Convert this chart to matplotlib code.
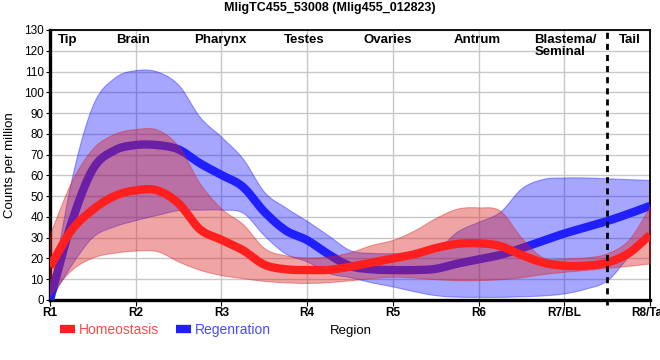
import numpy as np
import matplotlib
matplotlib.use("Agg")
import matplotlib.pyplot as plt
from matplotlib.lines import Line2D

plt.rcParams['font.family'] = ['Liberation Sans', 'DejaVu Sans']

# sample positions along the region axis (R1 = 0 ... R8 = 7)
pos = [0, 0.25, 0.5, 0.75, 1, 1.25, 1.5, 1.75, 2, 2.25, 2.5, 2.75, 3, 3.25,
       3.5, 3.75, 4, 4.25, 4.5, 4.75, 5, 5.25, 5.5, 5.75, 6, 6.25, 6.5, 6.75, 7]

homeo_mean = [16, 33.5, 43.5, 50, 52.8, 52.8, 46.5, 34, 29, 24, 17, 14.8, 14.4, 14.5,
              16, 18, 20, 22, 25, 27, 27.3, 26, 21.7, 18, 16.5, 16.5, 18, 22.5, 31.3]
homeo_hi = [32, 57, 73, 80, 82.3, 82, 74, 56, 44, 36.5, 25, 21.5, 20.5, 21,
            23, 26.5, 29, 33.5, 39.5, 44, 44.6, 43, 30, 20.5, 20, 20.5, 22.5, 29, 45]
homeo_lo = [2.5, 14.5, 20.5, 22.8, 23.8, 23.5, 18.5, 14.5, 12, 10.5, 9.2, 8.5, 8.2, 8.6,
            9.5, 10.5, 11.2, 10.8, 10, 9.6, 9.6, 10, 11, 12.5, 13.6, 14.5, 15.5, 16.5, 17.6]

regen_mean = [0, 37, 63, 72, 74.6, 74.6, 72.5, 65.8, 60.2, 54.5, 42.5, 33.5, 28.8, 22,
              16.4, 14.8, 14.4, 14.4, 15, 17.5, 19.5, 21.7, 24.9, 28.5, 32, 35, 38, 41.5, 45.3]
regen_hi = [2, 58, 94, 107, 110.7, 110, 103.5, 88, 78.5, 68, 52, 44.5, 38, 31,
            24, 22.7, 22.5, 22.5, 24, 33, 37.7, 42.5, 53.8, 58.3, 59, 59, 58.6, 58.2, 57.8]
regen_lo = [0, 17, 30.5, 35.5, 38.5, 41, 43.3, 43.5, 43.5, 42, 31, 22.3, 18.5, 13,
            11, 8.5, 6.5, 4.2, 2.3, 1.6, 1.5, 1.5, 1.8, 2.2, 3.2, 5.5, 9.5, 21, 31]

tick_labels = ['R1', 'R2', 'R3', 'R4', 'R5', 'R6', 'R7/BL', 'R8/Tail']
regions = ['Tip', 'Brain', 'Pharynx', 'Testes', 'Ovaries', 'Antrum', 'Blastema/\nSeminal', 'Tail']
region_x = [0.21, 0.97, 1.99, 2.96, 3.94, 4.98, 5.65, 6.77]


def smooth(x, y, steps=16):
    # catmull-rom curve through the read values, for drawing only
    x = np.asarray(x, float)
    y = np.asarray(y, float)
    px = np.concatenate([[2 * x[0] - x[1]], x, [2 * x[-1] - x[-2]]])
    py = np.concatenate([[2 * y[0] - y[1]], y, [2 * y[-1] - y[-2]]])
    t = np.linspace(0, 1, steps, endpoint=False)[:, None]
    out_x, out_y = [], []
    for k in range(1, len(px) - 2):
        for p, out in ((px, out_x), (py, out_y)):
            p0, p1, p2, p3 = p[k - 1], p[k], p[k + 1], p[k + 2]
            seg = 0.5 * (2 * p1 + (p2 - p0) * t + (2 * p0 - 5 * p1 + 4 * p2 - p3) * t**2
                         + (3 * p1 - p0 - 3 * p2 + p3) * t**3)
            out.append(seg.ravel())
    out_x.append([x[-1]])
    out_y.append([y[-1]])
    return np.concatenate(out_x), np.concatenate(out_y)


red = (1.0, 0.12, 0.12)
blue = (0.12, 0.12, 1.0)

fig = plt.figure(figsize=(6.6, 3.6), dpi=100)
ax = fig.add_axes([50 / 660, 60 / 360, 600 / 660, 270 / 360])

xs, rl = smooth(pos, regen_lo)
_, rh = smooth(pos, regen_hi)
_, rm = smooth(pos, regen_mean)
_, hl = smooth(pos, homeo_lo)
_, hh = smooth(pos, homeo_hi)
_, hm = smooth(pos, homeo_mean)

ax.fill_between(xs, np.clip(rl, 0, None), rh, color=(0.0, 0.0, 1.0), alpha=0.35, lw=0.8, zorder=2)
ax.plot(xs, rm, color=blue, lw=6, solid_capstyle='butt', zorder=3)
ax.fill_between(xs, hl, hh, color=(0.86, 0.12, 0.12), alpha=0.4, lw=0.8, zorder=4)
ax.plot(xs, hm, color=red, lw=6, solid_capstyle='butt', zorder=5)

ax.axvline(6.5, color='black', lw=2, ls=(0, (2.2, 1.8)), ymin=-0.02, clip_on=False, zorder=6)

ax.set_xlim(0, 7)
ax.set_ylim(0, 130)
ax.set_xticks(range(8))
ax.set_xticklabels(tick_labels, fontsize=8.5, fontweight='bold')
ax.set_yticks(range(0, 131, 10))
ax.tick_params(axis='y', labelsize=8.5, length=3, pad=1.5)
ax.tick_params(axis='x', length=4, pad=1)
ax.grid(True, color='#c8c8c8', lw=1, zorder=0)
ax.set_axisbelow(True)
for side in ['left', 'bottom']:
    ax.spines[side].set_linewidth(2.4)
for side in ['top', 'right']:
    ax.spines[side].set_linewidth(1.3)

for label, xr in zip(regions, region_x):
    ha = 'left' if '\n' in label else 'center'
    ax.text(xr, 128, label, ha=ha, va='top', fontsize=9.5, fontweight='bold',
            linespacing=1.0, zorder=7)

fig.text(0.5, 1 - 8 / 360, 'MligTC455_53008 (Mlig455_012823)', ha='center', va='center',
         fontsize=9, fontweight='bold')
ax.set_ylabel('Counts per million', fontsize=9.5, labelpad=6)
fig.text(351 / 660, 1 - 331 / 360, 'Region', ha='center', va='center', fontsize=9.5)

handles = [Line2D([], [], color=red, lw=6, solid_capstyle='butt'),
           Line2D([], [], color=blue, lw=6, solid_capstyle='butt')]
leg = fig.legend(handles, ['Homeostasis', 'Regenration'], loc='center left',
                 bbox_to_anchor=(47 / 660, 1 - 330 / 360), ncol=2, frameon=False,
                 fontsize=10, handlelength=1.1, handletextpad=0.3, columnspacing=1.2)
leg.get_texts()[0].set_color('#ff4a4a')
leg.get_texts()[1].set_color('#4a4aff')

fig.savefig('out.png', dpi=100)
